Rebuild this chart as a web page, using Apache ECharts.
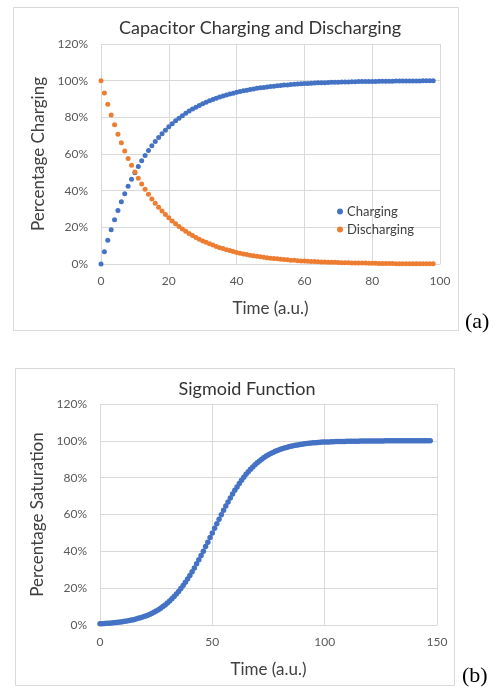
<!DOCTYPE html>
<html>
<head>
<meta charset="utf-8">
<script src="https://cdn.jsdelivr.net/npm/echarts@6/dist/echarts.min.js"></script>
<style>
html,body{margin:0;padding:0;background:#fff;}
#c{width:497px;height:689px;}
</style>
</head>
<body>
<div id="c"></div>
<script>
// ---- Panel (a): capacitor, time 0..98 step 1 ----
const capStep = 1;
const charging = [0, 6.7, 12.9, 18.7, 24.1, 29.2, 33.9, 38.3, 42.4, 46.2,
  49.8, 53.2, 56.3, 59.2, 61.9, 64.5, 66.8, 69.0, 71.1, 73.0,
  74.8, 76.5, 78.1, 79.5, 80.9, 82.2, 83.4, 84.5, 85.5, 86.5,
  87.4, 88.2, 89.0, 89.7, 90.4, 91.1, 91.6, 92.2, 92.7, 93.2,
  93.7, 94.1, 94.5, 94.8, 95.2, 95.5, 95.8, 96.1, 96.3, 96.6,
  96.8, 97.0, 97.2, 97.4, 97.6, 97.7, 97.9, 98.0, 98.2, 98.3,
  98.4, 98.5, 98.6, 98.7, 98.8, 98.9, 98.9, 99.0, 99.1, 99.1,
  99.2, 99.3, 99.3, 99.3, 99.4, 99.4, 99.5, 99.5, 99.5, 99.6,
  99.6, 99.6, 99.7, 99.7, 99.7, 99.7, 99.7, 99.8, 99.8, 99.8,
  99.8, 99.8, 99.8, 99.8, 99.8, 99.9, 99.9, 99.9, 99.9];
const discharging = [100, 93.3, 87.1, 81.3, 75.9, 70.8, 66.1, 61.7, 57.6, 53.8,
  50.2, 46.8, 43.7, 40.8, 38.1, 35.5, 33.2, 31.0, 28.9, 27.0,
  25.2, 23.5, 21.9, 20.5, 19.1, 17.8, 16.6, 15.5, 14.5, 13.5,
  12.6, 11.8, 11.0, 10.3, 9.6, 8.9, 8.4, 7.8, 7.3, 6.8,
  6.3, 5.9, 5.5, 5.2, 4.8, 4.5, 4.2, 3.9, 3.7, 3.4,
  3.2, 3.0, 2.8, 2.6, 2.4, 2.3, 2.1, 2.0, 1.8, 1.7,
  1.6, 1.5, 1.4, 1.3, 1.2, 1.1, 1.1, 1.0, 0.9, 0.9,
  0.8, 0.7, 0.7, 0.7, 0.6, 0.6, 0.5, 0.5, 0.5, 0.4,
  0.4, 0.4, 0.3, 0.3, 0.3, 0.3, 0.3, 0.2, 0.2, 0.2,
  0.2, 0.2, 0.2, 0.2, 0.2, 0.1, 0.1, 0.1, 0.1];

// ---- Panel (b): sigmoid, time 0..147 step 1 ----
const sigStep = 1;
const sigmoid = [0.7, 0.7, 0.8, 0.9, 1.0, 1.1, 1.2, 1.3, 1.5, 1.6,
  1.8, 2.0, 2.2, 2.4, 2.7, 2.9, 3.2, 3.6, 3.9, 4.3,
  4.7, 5.2, 5.7, 6.3, 6.9, 7.6, 8.3, 9.1, 10.0, 10.9,
  11.9, 13.0, 14.2, 15.5, 16.8, 18.2, 19.8, 21.4, 23.2, 25.0,
  26.9, 28.9, 31.0, 33.2, 35.4, 37.8, 40.1, 42.6, 45.0, 47.5,
  50.0, 52.5, 55.0, 57.4, 59.9, 62.3, 64.6, 66.8, 69.0, 71.1,
  73.1, 75.0, 76.9, 78.6, 80.2, 81.8, 83.2, 84.6, 85.8, 87.0,
  88.1, 89.1, 90.0, 90.9, 91.7, 92.4, 93.1, 93.7, 94.3, 94.8,
  95.3, 95.7, 96.1, 96.4, 96.8, 97.1, 97.3, 97.6, 97.8, 98.0,
  98.2, 98.4, 98.5, 98.7, 98.8, 98.9, 99.0, 99.1, 99.2, 99.3,
  99.3, 99.4, 99.4, 99.5, 99.5, 99.6, 99.6, 99.7, 99.7, 99.7,
  99.8, 99.8, 99.8, 99.8, 99.8, 99.8, 99.9, 99.9, 99.9, 99.9,
  99.9, 99.9, 99.9, 99.9, 99.9, 99.9, 99.9, 100, 100, 100,
  100, 100, 100, 100, 100, 100, 100, 100, 100, 100,
  100, 100, 100, 100, 100, 100, 100, 100];

const titles = ['Capacitor Charging and Discharging', 'Sigmoid Function'];
const xNames = ['Time (a.u.)', 'Time (a.u.)'];
const yNames = ['Percentage Charging', 'Percentage Saturation'];
const seriesNames = ['Charging', 'Discharging', 'Sigmoid'];
const panelTags = ['(a)', '(b)'];

const toPairs = (vals, step) => vals.map((v, i) => [i * step, v]);

const FONT = 'Lato, "Open Sans", sans-serif';
const TXT = '#404040';
const LBL = '#595959';
const GRID = '#d9d9d9';

function xAxis(gi, max, interval) {
  return {
    type: 'value', gridIndex: gi, min: 0, max: max, interval: interval,
    name: xNames[gi], nameLocation: 'middle', nameGap: 36,
    nameTextStyle: { fontFamily: FONT, fontSize: 17, color: TXT },
    axisLine: { show: true, lineStyle: { color: GRID } },
    axisTick: { show: false },
    axisLabel: { fontFamily: FONT, fontSize: 12, color: LBL, margin: 11 },
    splitLine: { show: true, lineStyle: { color: GRID } }
  };
}
function yAxis(gi) {
  return {
    type: 'value', gridIndex: gi, min: 0, max: 120, interval: 20,
    name: yNames[gi], nameLocation: 'middle', nameGap: 54,
    nameTextStyle: { fontFamily: FONT, fontSize: 17, color: TXT },
    axisLine: { show: false }, axisTick: { show: false },
    axisLabel: { fontFamily: FONT, fontSize: 12, color: LBL, margin: 13, formatter: '{value}%' },
    splitLine: { show: true, lineStyle: { color: GRID } }
  };
}

const chart = echarts.init(document.getElementById('c'), null, { renderer: 'canvas' });
chart.setOption({
  animation: false,
  backgroundColor: '#fff',
  title: [
    { text: titles[0], left: 255, top: 14, textAlign: 'center',
      textStyle: { fontFamily: FONT, fontSize: 18, fontWeight: 'normal', color: '#333' } },
    { text: titles[1], left: 242, top: 375, textAlign: 'center',
      textStyle: { fontFamily: FONT, fontSize: 18, fontWeight: 'normal', color: '#333' } }
  ],
  legend: {
    data: [seriesNames[0], seriesNames[1]],
    orient: 'vertical', left: 332, top: 200,
    icon: 'circle', itemWidth: 6, itemHeight: 6, itemGap: 5,
    textStyle: { fontFamily: FONT, fontSize: 13, color: TXT, padding: [0, 0, 0, -1] }
  },
  grid: [
    { left: 101, top: 44, width: 339, height: 220 },
    { left: 100, top: 404, width: 337, height: 221 }
  ],
  xAxis: [xAxis(0, 100, 20), xAxis(1, 150, 50)],
  yAxis: [yAxis(0), yAxis(1)],
  graphic: [
    { type: 'rect', shape: { x: 13.5, y: 7.5, width: 445, height: 323 },
      style: { fill: null, stroke: '#d9d9d9', lineWidth: 1 }, silent: true, z: -1 },
    { type: 'rect', shape: { x: 15.5, y: 368.5, width: 439, height: 317 },
      style: { fill: null, stroke: '#d9d9d9', lineWidth: 1 }, silent: true, z: -1 },
    { type: 'text', left: 465, top: 311,
      style: { text: panelTags[0], font: '22px "Liberation Serif", serif', fill: '#000' } },
    { type: 'text', left: 462, top: 665,
      style: { text: panelTags[1], font: '22px "Liberation Serif", serif', fill: '#000' } }
  ],
  series: [
    { name: seriesNames[0], type: 'scatter', xAxisIndex: 0, yAxisIndex: 0,
      symbolSize: 5, itemStyle: { color: '#4472C4', opacity: 1 },
      data: toPairs(charging, capStep) },
    { name: seriesNames[1], type: 'scatter', xAxisIndex: 0, yAxisIndex: 0,
      symbolSize: 5, itemStyle: { color: '#ED7D31', opacity: 1 },
      data: toPairs(discharging, capStep) },
    { name: seriesNames[2], type: 'scatter', xAxisIndex: 1, yAxisIndex: 1,
      symbolSize: 5.5, itemStyle: { color: '#4472C4', opacity: 1 },
      data: toPairs(sigmoid, sigStep) }
  ]
});
</script>
</body>
</html>
